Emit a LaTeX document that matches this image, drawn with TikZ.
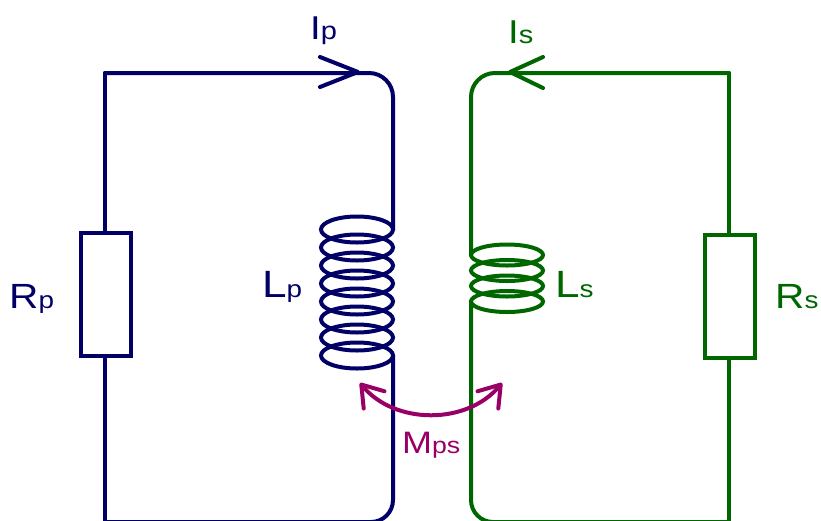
\documentclass[tikz,border=0pt]{standalone}
\usepackage{fontspec}
\setmainfont{Liberation Sans}
\usetikzlibrary{arrows.meta}
\definecolor{navy}{RGB}{0,0,102}
\definecolor{dgreen}{RGB}{0,102,0}
\definecolor{mpurple}{RGB}{153,0,102}
\newcommand{\clab}[4]{\scalebox{1.16}[1]{{\fontsize{#3}{#3}\selectfont #1}{\fontsize{#4}{#4}\selectfont #2}}}
\begin{document}
\begin{tikzpicture}[x=1pt,y=-1pt,
  wire/.style={line width=4pt, line cap=round, line join=round},
  resbox/.style={draw=#1, fill=white, line width=4pt, minimum width=50pt, minimum height=123pt, inner sep=0pt},
  lab/.style={anchor=base west, inner sep=0pt},
  coilring/.style={line width=4pt}]
\useasboundingbox (0,0) rectangle (821,520);
% ---------- primary circuit ----------
\coordinate (ptl) at (105,73);
\coordinate (ptr) at (393,73);
\coordinate (pct) at (393,229.5);
\coordinate (pcb) at (393,355.5);
\coordinate (pbr) at (393,522);
\coordinate (pbl) at (105,522);
\draw[wire,navy] (ptl) -- (pbl);
\draw[wire,navy,rounded corners=24pt] (ptl) -- (ptr) -- (pct);
\draw[wire,navy,rounded corners=22pt] (pbl) -- (pbr) -- (pcb);
\node[resbox=navy] (Rp) at (106,294.5) {};
\foreach \i in {0,...,7}
  \draw[coilring,navy] (357,229.5+18*\i) ellipse [x radius=36, y radius=13];
\draw[wire,navy] (320,57) -- (358,72) -- (320,87);
% ---------- secondary circuit ----------
\coordinate (stl) at (471,73);
\coordinate (str) at (729,73);
\coordinate (sct) at (471,255);
\coordinate (scb) at (471,301.5);
\coordinate (sbr) at (729,522);
\coordinate (sbl) at (471,522);
\draw[wire,dgreen] (str) -- (sbr);
\draw[wire,dgreen,rounded corners=24pt] (str) -- (stl) -- (sct);
\draw[wire,dgreen,rounded corners=22pt] (sbr) -- (sbl) -- (scb);
\node[resbox=dgreen] (Rs) at (730,296.5) {};
\foreach \i in {0,...,3}
  \draw[coilring,dgreen] (507,255+15.5*\i) ellipse [x radius=36, y radius=10.5];
\draw[wire,dgreen] (543,57) -- (510,72) -- (543,88);
% ---------- mutual inductance ----------
\coordinate (ma) at (360,383);
\coordinate (mb) at (502,383);
\draw[line width=4pt, mpurple, {Straight Barb[length=20pt,width=27pt,round]}-{Straight Barb[length=20pt,width=27pt,round]}]
  (ma) .. controls (395,425) and (467,425) .. (mb);
% ---------- labels ----------
\node[lab,navy] (lRp) at (9,308) {\clab{R}{p}{35}{24}};
\node[lab,navy] (lLp) at (262,297) {\clab{L}{p}{38}{24}};
\node[lab,navy] (lIp) at (310,39) {\clab{I}{p}{33}{25}};
\node[lab,dgreen] (lIs) at (508,43) {\clab{I}{s}{33}{25}};
\node[lab,dgreen] (lLs) at (555,297) {\clab{L}{s}{38}{24}};
\node[lab,dgreen] (lRs) at (775,308) {\clab{R}{s}{35}{24}};
\node[lab,mpurple] (lM) at (402,453) {\clab{M}{ps}{31}{23}};
\end{tikzpicture}
\end{document}
